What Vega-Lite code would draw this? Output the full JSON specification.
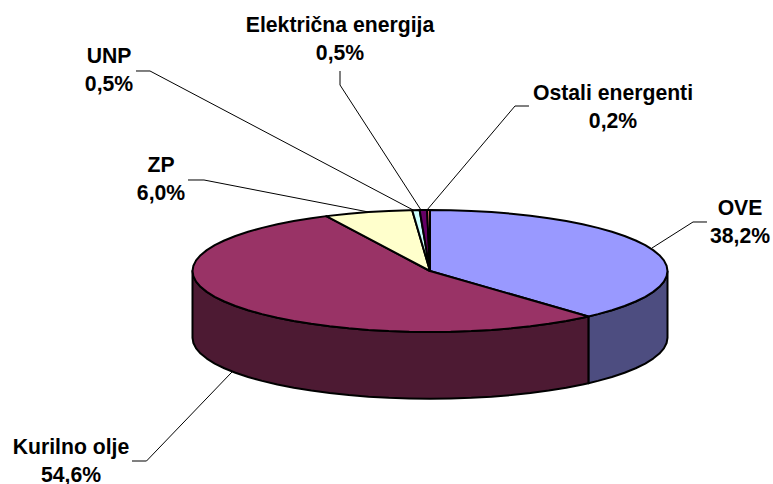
{"$schema":"https://vega.github.io/schema/vega-lite/v6.json","width":773,"height":484,"padding":0,"autosize":{"type":"none"},"background":"white","config":{"view":{"stroke":null}},
"datasets":{
"sides":[
{"part":"OVE side","s":1,"x":1,"y":0},{"part":"OVE side","s":2,"x":0.9962,"y":-0.0872},{"part":"OVE side","s":3,"x":0.9848,"y":-0.1736},{"part":"OVE side","s":4,"x":0.9659,"y":-0.2588},{"part":"OVE side","s":5,"x":0.9397,"y":-0.342},{"part":"OVE side","s":6,"x":0.9063,"y":-0.4226},{"part":"OVE side","s":7,"x":0.866,"y":-0.5},{"part":"OVE side","s":8,"x":0.8192,"y":-0.5736},{"part":"OVE side","s":9,"x":0.766,"y":-0.6428},{"part":"OVE side","s":10,"x":0.7071,"y":-0.7071},{"part":"OVE side","s":11,"x":0.667,"y":-0.745},
{"part":"OVE side","s":12,"x":0.667,"y":-1.839},{"part":"OVE side","s":13,"x":0.7071,"y":-1.801},{"part":"OVE side","s":14,"x":0.766,"y":-1.737},{"part":"OVE side","s":15,"x":0.8192,"y":-1.668},{"part":"OVE side","s":16,"x":0.866,"y":-1.594},{"part":"OVE side","s":17,"x":0.9063,"y":-1.517},{"part":"OVE side","s":18,"x":0.9397,"y":-1.436},{"part":"OVE side","s":19,"x":0.9659,"y":-1.353},{"part":"OVE side","s":20,"x":0.9848,"y":-1.268},{"part":"OVE side","s":21,"x":0.9962,"y":-1.181},{"part":"OVE side","s":22,"x":1,"y":-1.094},{"part":"OVE side","s":23,"x":1,"y":0},
{"part":"Kurilno side","s":1,"x":0.667,"y":-0.745},{"part":"Kurilno side","s":2,"x":0.6428,"y":-0.766},{"part":"Kurilno side","s":3,"x":0.5736,"y":-0.8192},{"part":"Kurilno side","s":4,"x":0.5,"y":-0.866},{"part":"Kurilno side","s":5,"x":0.4226,"y":-0.9063},{"part":"Kurilno side","s":6,"x":0.342,"y":-0.9397},{"part":"Kurilno side","s":7,"x":0.2588,"y":-0.9659},{"part":"Kurilno side","s":8,"x":0.1736,"y":-0.9848},{"part":"Kurilno side","s":9,"x":0.0872,"y":-0.9962},{"part":"Kurilno side","s":10,"x":0,"y":-1},{"part":"Kurilno side","s":11,"x":-0.0872,"y":-0.9962},{"part":"Kurilno side","s":12,"x":-0.1736,"y":-0.9848},{"part":"Kurilno side","s":13,"x":-0.2588,"y":-0.9659},{"part":"Kurilno side","s":14,"x":-0.342,"y":-0.9397},{"part":"Kurilno side","s":15,"x":-0.4226,"y":-0.9063},{"part":"Kurilno side","s":16,"x":-0.5,"y":-0.866},{"part":"Kurilno side","s":17,"x":-0.5736,"y":-0.8192},{"part":"Kurilno side","s":18,"x":-0.6428,"y":-0.766},{"part":"Kurilno side","s":19,"x":-0.7071,"y":-0.7071},{"part":"Kurilno side","s":20,"x":-0.766,"y":-0.6428},{"part":"Kurilno side","s":21,"x":-0.8192,"y":-0.5736},{"part":"Kurilno side","s":22,"x":-0.866,"y":-0.5},{"part":"Kurilno side","s":23,"x":-0.9063,"y":-0.4226},{"part":"Kurilno side","s":24,"x":-0.9397,"y":-0.342},{"part":"Kurilno side","s":25,"x":-0.9659,"y":-0.2588},{"part":"Kurilno side","s":26,"x":-0.9848,"y":-0.1736},{"part":"Kurilno side","s":27,"x":-0.9962,"y":-0.0872},{"part":"Kurilno side","s":28,"x":-1,"y":0},
{"part":"Kurilno side","s":29,"x":-1,"y":-1.094},{"part":"Kurilno side","s":30,"x":-0.9962,"y":-1.181},{"part":"Kurilno side","s":31,"x":-0.9848,"y":-1.268},{"part":"Kurilno side","s":32,"x":-0.9659,"y":-1.353},{"part":"Kurilno side","s":33,"x":-0.9397,"y":-1.436},{"part":"Kurilno side","s":34,"x":-0.9063,"y":-1.517},{"part":"Kurilno side","s":35,"x":-0.866,"y":-1.594},{"part":"Kurilno side","s":36,"x":-0.8192,"y":-1.668},{"part":"Kurilno side","s":37,"x":-0.766,"y":-1.737},{"part":"Kurilno side","s":38,"x":-0.7071,"y":-1.801},{"part":"Kurilno side","s":39,"x":-0.6428,"y":-1.86},{"part":"Kurilno side","s":40,"x":-0.5736,"y":-1.913},{"part":"Kurilno side","s":41,"x":-0.5,"y":-1.96},{"part":"Kurilno side","s":42,"x":-0.4226,"y":-2},{"part":"Kurilno side","s":43,"x":-0.342,"y":-2.034},{"part":"Kurilno side","s":44,"x":-0.2588,"y":-2.06},{"part":"Kurilno side","s":45,"x":-0.1736,"y":-2.079},{"part":"Kurilno side","s":46,"x":-0.0872,"y":-2.09},{"part":"Kurilno side","s":47,"x":0,"y":-2.094},{"part":"Kurilno side","s":48,"x":0.0872,"y":-2.09},{"part":"Kurilno side","s":49,"x":0.1736,"y":-2.079},{"part":"Kurilno side","s":50,"x":0.2588,"y":-2.06},{"part":"Kurilno side","s":51,"x":0.342,"y":-2.034},{"part":"Kurilno side","s":52,"x":0.4226,"y":-2},{"part":"Kurilno side","s":53,"x":0.5,"y":-1.96},{"part":"Kurilno side","s":54,"x":0.5736,"y":-1.913},{"part":"Kurilno side","s":55,"x":0.6428,"y":-1.86},{"part":"Kurilno side","s":56,"x":0.667,"y":-1.839},{"part":"Kurilno side","s":57,"x":0.667,"y":-0.745}
],
"tops":[
{"part":"OVE top","s":0,"x":0,"y":0},{"part":"OVE top","s":1,"x":0,"y":1},{"part":"OVE top","s":2,"x":0.0872,"y":0.9962},{"part":"OVE top","s":3,"x":0.1736,"y":0.9848},{"part":"OVE top","s":4,"x":0.2588,"y":0.9659},{"part":"OVE top","s":5,"x":0.342,"y":0.9397},{"part":"OVE top","s":6,"x":0.4226,"y":0.9063},{"part":"OVE top","s":7,"x":0.5,"y":0.866},{"part":"OVE top","s":8,"x":0.5736,"y":0.8192},{"part":"OVE top","s":9,"x":0.6428,"y":0.766},{"part":"OVE top","s":10,"x":0.7071,"y":0.7071},{"part":"OVE top","s":11,"x":0.766,"y":0.6428},{"part":"OVE top","s":12,"x":0.8192,"y":0.5736},{"part":"OVE top","s":13,"x":0.866,"y":0.5},{"part":"OVE top","s":14,"x":0.9063,"y":0.4226},{"part":"OVE top","s":15,"x":0.9397,"y":0.342},{"part":"OVE top","s":16,"x":0.9659,"y":0.2588},{"part":"OVE top","s":17,"x":0.9848,"y":0.1736},{"part":"OVE top","s":18,"x":0.9962,"y":0.0872},{"part":"OVE top","s":19,"x":1,"y":0},{"part":"OVE top","s":20,"x":0.9962,"y":-0.0872},{"part":"OVE top","s":21,"x":0.9848,"y":-0.1736},{"part":"OVE top","s":22,"x":0.9659,"y":-0.2588},{"part":"OVE top","s":23,"x":0.9397,"y":-0.342},{"part":"OVE top","s":24,"x":0.9063,"y":-0.4226},{"part":"OVE top","s":25,"x":0.866,"y":-0.5},{"part":"OVE top","s":26,"x":0.8192,"y":-0.5736},{"part":"OVE top","s":27,"x":0.766,"y":-0.6428},{"part":"OVE top","s":28,"x":0.7071,"y":-0.7071},{"part":"OVE top","s":29,"x":0.667,"y":-0.745},{"part":"OVE top","s":30,"x":0,"y":0},
{"part":"Kurilno top","s":0,"x":0,"y":0},{"part":"Kurilno top","s":1,"x":0.667,"y":-0.745},{"part":"Kurilno top","s":2,"x":0.6428,"y":-0.766},{"part":"Kurilno top","s":3,"x":0.5736,"y":-0.8192},{"part":"Kurilno top","s":4,"x":0.5,"y":-0.866},{"part":"Kurilno top","s":5,"x":0.4226,"y":-0.9063},{"part":"Kurilno top","s":6,"x":0.342,"y":-0.9397},{"part":"Kurilno top","s":7,"x":0.2588,"y":-0.9659},{"part":"Kurilno top","s":8,"x":0.1736,"y":-0.9848},{"part":"Kurilno top","s":9,"x":0.0872,"y":-0.9962},{"part":"Kurilno top","s":10,"x":0,"y":-1},{"part":"Kurilno top","s":11,"x":-0.0872,"y":-0.9962},{"part":"Kurilno top","s":12,"x":-0.1736,"y":-0.9848},{"part":"Kurilno top","s":13,"x":-0.2588,"y":-0.9659},{"part":"Kurilno top","s":14,"x":-0.342,"y":-0.9397},{"part":"Kurilno top","s":15,"x":-0.4226,"y":-0.9063},{"part":"Kurilno top","s":16,"x":-0.5,"y":-0.866},{"part":"Kurilno top","s":17,"x":-0.5736,"y":-0.8192},{"part":"Kurilno top","s":18,"x":-0.6428,"y":-0.766},{"part":"Kurilno top","s":19,"x":-0.7071,"y":-0.7071},{"part":"Kurilno top","s":20,"x":-0.766,"y":-0.6428},{"part":"Kurilno top","s":21,"x":-0.8192,"y":-0.5736},{"part":"Kurilno top","s":22,"x":-0.866,"y":-0.5},{"part":"Kurilno top","s":23,"x":-0.9063,"y":-0.4226},{"part":"Kurilno top","s":24,"x":-0.9397,"y":-0.342},{"part":"Kurilno top","s":25,"x":-0.9659,"y":-0.2588},{"part":"Kurilno top","s":26,"x":-0.9848,"y":-0.1736},{"part":"Kurilno top","s":27,"x":-0.9962,"y":-0.0872},{"part":"Kurilno top","s":28,"x":-1,"y":0},{"part":"Kurilno top","s":29,"x":-0.9962,"y":0.0872},{"part":"Kurilno top","s":30,"x":-0.9848,"y":0.1736},{"part":"Kurilno top","s":31,"x":-0.9659,"y":0.2588},{"part":"Kurilno top","s":32,"x":-0.9397,"y":0.342},{"part":"Kurilno top","s":33,"x":-0.9063,"y":0.4226},{"part":"Kurilno top","s":34,"x":-0.866,"y":0.5},{"part":"Kurilno top","s":35,"x":-0.8192,"y":0.5736},{"part":"Kurilno top","s":36,"x":-0.766,"y":0.6428},{"part":"Kurilno top","s":37,"x":-0.7071,"y":0.7071},{"part":"Kurilno top","s":38,"x":-0.6428,"y":0.766},{"part":"Kurilno top","s":39,"x":-0.5736,"y":0.8192},{"part":"Kurilno top","s":40,"x":-0.5,"y":0.866},{"part":"Kurilno top","s":41,"x":-0.4368,"y":0.8996},{"part":"Kurilno top","s":42,"x":0,"y":0},
{"part":"ZP top","s":0,"x":0,"y":0},{"part":"ZP top","s":1,"x":-0.4368,"y":0.8996},{"part":"ZP top","s":2,"x":-0.342,"y":0.9397},{"part":"ZP top","s":3,"x":-0.2588,"y":0.9659},{"part":"ZP top","s":4,"x":-0.1736,"y":0.9848},{"part":"ZP top","s":5,"x":-0.0872,"y":0.9962},{"part":"ZP top","s":6,"x":-0.075,"y":0.9972},{"part":"ZP top","s":7,"x":0,"y":0},
{"part":"UNP top","s":0,"x":0,"y":0},{"part":"UNP top","s":1,"x":-0.075,"y":0.9972},{"part":"UNP top","s":2,"x":-0.0436,"y":0.999},{"part":"UNP top","s":3,"x":0,"y":0},
{"part":"Elek top","s":0,"x":0,"y":0},{"part":"Elek top","s":1,"x":-0.0436,"y":0.999},{"part":"Elek top","s":2,"x":-0.0122,"y":0.9999},{"part":"Elek top","s":3,"x":0,"y":0},
{"part":"Ostali top","s":0,"x":0,"y":0},{"part":"Ostali top","s":1,"x":-0.0122,"y":0.9999},{"part":"Ostali top","s":2,"x":0,"y":1},{"part":"Ostali top","s":3,"x":0,"y":0}
],
"leaders":[
{"name":"OVE","s":1,"x":0.9347,"y":0.377},{"name":"OVE","s":2,"x":1.1074,"y":0.8033},{"name":"OVE","s":3,"x":1.1663,"y":0.8033},
{"name":"Kurilno olje","s":1,"x":-0.8337,"y":-1.6557},{"name":"Kurilno olje","s":2,"x":-1.1937,"y":-3.1148},{"name":"Kurilno olje","s":3,"x":-1.2547,"y":-3.1148},
{"name":"ZP","s":1,"x":-1.0189,"y":1.4918},{"name":"ZP","s":2,"x":-0.9516,"y":1.4918},{"name":"ZP","s":3,"x":-0.2589,"y":0.9672},
{"name":"UNP","s":1,"x":-1.2379,"y":3.2787},{"name":"UNP","s":2,"x":-1.1789,"y":3.2787},{"name":"UNP","s":3,"x":-0.0632,"y":0.9836},
{"name":"Električna energija","s":1,"x":-0.3789,"y":3.2787},{"name":"Električna energija","s":2,"x":-0.3789,"y":3.0492},{"name":"Električna energija","s":3,"x":-0.0379,"y":1},
{"name":"Ostali energenti","s":1,"x":0.4168,"y":2.7049},{"name":"Ostali energenti","s":2,"x":0.3579,"y":2.7049},{"name":"Ostali energenti","s":3,"x":-0.0126,"y":1}
],
"labels":[
{"label":"OVE\n38,2%","x":1.3053,"y":1.017},
{"label":"Kurilno olje\n54,6%","x":-1.5116,"y":-2.909},
{"label":"ZP\n6,0%","x":-1.1326,"y":1.722},
{"label":"UNP\n0,5%","x":-1.3516,"y":3.509},
{"label":"Električna energija\n0,5%","x":-0.3789,"y":4.017},
{"label":"Ostali energenti\n0,2%","x":0.7705,"y":2.902}
]},
"encoding":{
"x":{"field":"x","type":"quantitative","axis":null,"scale":{"domain":[-1.8105,1.4442],"nice":false,"zero":false}},
"y":{"field":"y","type":"quantitative","axis":null,"scale":{"domain":[-3.4918,4.4426],"nice":false,"zero":false}}
},
"layer":[
{"data":{"name":"leaders"},"mark":{"type":"line","stroke":"#000000","strokeWidth":1},"encoding":{"detail":{"field":"name"},"order":{"field":"s","type":"quantitative"}}},
{"data":{"name":"sides"},"mark":{"type":"line","stroke":"#000000","strokeWidth":2,"strokeJoin":"round"},"encoding":{"fill":{"field":"part","type":"nominal","legend":null,"scale":{"domain":["OVE side","Kurilno side","OVE top","Kurilno top","ZP top","UNP top","Elek top","Ostali top"],"range":["#4D4D80","#4D1A33","#9999FF","#993366","#FFFFCC","#CCFFFF","#660066","#FF8080"]}},"order":{"field":"s","type":"quantitative"}}},
{"data":{"name":"tops"},"mark":{"type":"line","stroke":"#000000","strokeWidth":2,"strokeJoin":"round"},"encoding":{"fill":{"field":"part","type":"nominal","legend":null},"order":{"field":"s","type":"quantitative"}}},
{"data":{"name":"labels"},"mark":{"type":"text","font":"Liberation Sans","fontWeight":"bold","fontSize":21.2,"fill":"#000000","align":"center","baseline":"middle","lineBreak":"\n","lineHeight":28},"encoding":{"text":{"field":"label"}}}
]}
